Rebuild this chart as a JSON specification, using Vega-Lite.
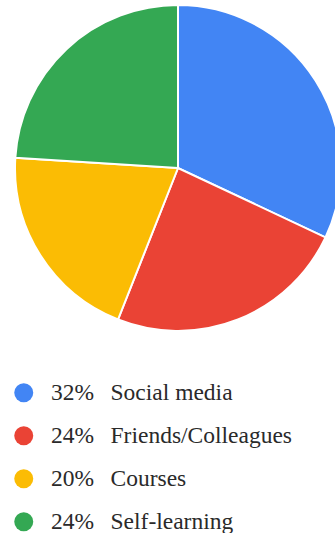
{
  "$schema": "https://vega.github.io/schema/vega-lite/v6.json",
  "width": 314,
  "height": 326,
  "padding": {"left": 21, "top": 5, "right": 0, "bottom": 202},
  "autosize": {"type": "none"},
  "background": "white",
  "data": {
    "values": [
      {"idx": 1, "source": "Social media", "share": 32, "label": "32%\u00a0\u00a0\u2009Social media"},
      {"idx": 2, "source": "Friends/Colleagues", "share": 24, "label": "24%\u00a0\u00a0\u2009Friends/Colleagues"},
      {"idx": 3, "source": "Courses", "share": 20, "label": "20%\u00a0\u00a0\u2009Courses"},
      {"idx": 4, "source": "Self-learning", "share": 24, "label": "24%\u00a0\u00a0\u2009Self-learning"}
    ]
  },
  "mark": {"type": "arc", "outerRadius": 163, "stroke": "white", "strokeWidth": 2},
  "encoding": {
    "theta": {"field": "share", "type": "quantitative", "stack": true},
    "order": {"field": "idx", "type": "quantitative", "sort": "ascending"},
    "color": {
      "field": "label",
      "type": "nominal",
      "scale": {
        "domain": ["32%\u00a0\u00a0\u2009Social media", "24%\u00a0\u00a0\u2009Friends/Colleagues", "20%\u00a0\u00a0\u2009Courses", "24%\u00a0\u00a0\u2009Self-learning"],
        "range": ["#4285F4", "#EA4335", "#FBBC04", "#34A853"]
      },
      "legend": {
        "orient": "none",
        "legendX": -9,
        "legendY": 376,
        "title": null,
        "symbolType": "circle",
        "symbolSize": 361,
        "symbolStrokeWidth": 0,
        "labelFont": "'Liberation Serif', 'Times New Roman', serif",
        "labelFontSize": 23.5,
        "labelColor": "#2a2a2a",
        "labelOffset": 15.5,
        "labelLimit": 400,
        "rowPadding": 18,
        "padding": 0
      }
    }
  }
}
